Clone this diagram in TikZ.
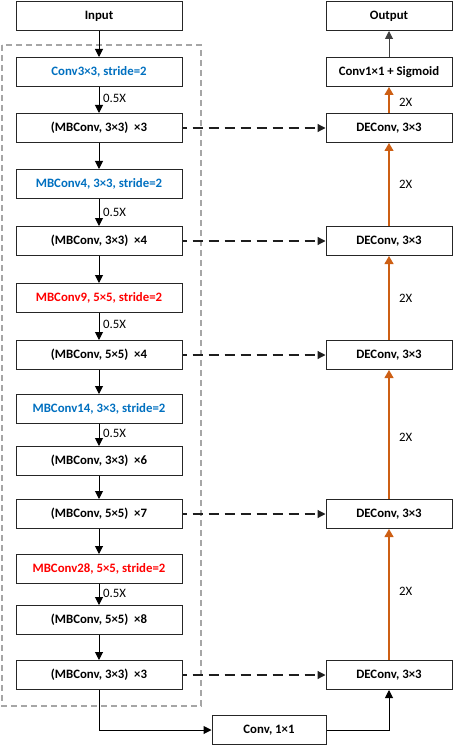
\documentclass[tikz,border=0pt]{standalone}
\usepackage{fontspec}
\setmainfont{Carlito}
\usetikzlibrary{arrows.meta}
\definecolor{lblue}{RGB}{0,112,192}
\definecolor{lred}{RGB}{255,0,0}
\definecolor{upor}{RGB}{205,95,20}
\definecolor{skipgray}{RGB}{30,30,30}
\definecolor{framegray}{RGB}{166,166,166}
\begin{document}
\begin{tikzpicture}[x=1pt,y=-1pt,
  blk/.style={draw=black!85,line width=1pt,fill=white,minimum height=29pt,inner sep=0pt,
    font=\fontsize{12.8}{14}\selectfont\bfseries},
  enc/.style={blk,minimum width=166pt},
  dec/.style={blk,minimum width=126pt},
  flow/.style={draw=black,line width=1pt,-{Triangle[length=8pt,width=8pt]}},
  up/.style={draw=upor,line width=1.1pt,-{Triangle[length=8pt,width=9pt]}},
  skip/.style={draw=skipgray,line width=1.2pt,dash pattern=on 10pt off 6pt,dash phase=6pt,
    -{Triangle[length=8pt,width=8pt]}},
  rate/.style={font=\fontsize{12.8}{14}\selectfont,inner sep=1pt}
]
\useasboundingbox (0,0) rectangle (455,746);
% encoder frame
\draw[framegray,line width=1.2pt,dash pattern=on 6pt off 4pt] (2,45) rectangle (201,706);

% encoder column
\node[enc] (in) at (99,16) {Input};
\node[enc,text=lblue] (e1) at (99,72) {Conv3×3, stride=2};
\node[enc] (e2) at (99,128) {(MBConv, 3×3)\ \ ×3};
\node[enc,text=lblue] (e3) at (99,184) {MBConv4, 3×3, stride=2};
\node[enc] (e4) at (99,241) {(MBConv, 3×3)\ \ ×4};
\node[enc,text=lred] (e5) at (99,298) {MBConv9, 5×5, stride=2};
\node[enc] (e6) at (99,355) {(MBConv, 5×5)\ \ ×4};
\node[enc,text=lblue] (e7) at (99,409) {MBConv14, 3×3, stride=2};
\node[enc] (e8) at (99,461) {(MBConv, 3×3)\ \ ×6};
\node[enc] (e9) at (99,514) {(MBConv, 5×5)\ \ ×7};
\node[enc,text=lred] (e10) at (99,569) {MBConv28, 5×5, stride=2};
\node[enc] (e11) at (99,620) {(MBConv, 5×5)\ \ ×8};
\node[enc] (e12) at (99,675) {(MBConv, 3×3)\ \ ×3};

% decoder column
\node[dec] (out) at (389,16) {Output};
\node[dec] (sg) at (389,72) {Conv1×1 + Sigmoid};
\node[dec] (d1) at (389,128) {DEConv, 3×3};
\node[dec] (d2) at (389,241) {DEConv, 3×3};
\node[dec] (d3) at (389,355) {DEConv, 3×3};
\node[dec] (d4) at (389,514) {DEConv, 3×3};
\node[dec] (d5) at (389,675) {DEConv, 3×3};
\node[blk,minimum width=114pt] (cv) at (269,730) {Conv, 1×1};

% encoder flow
\foreach \a/\b in {in/e1,e1/e2,e2/e3,e3/e4,e4/e5,e5/e6,e6/e7,e7/e8,e8/e9,e9/e10,e10/e11,e11/e12}
  \draw[flow] (\a.south) -- (\b.north);
\foreach \y in {98,212,324,433,593}
  \node[rate,anchor=west] at (102,\y) {0.5X};

% bottleneck path
\draw[flow] (e12.south) |- (cv.west);
\draw[flow] (cv.east) -| (d5.south);

% decoder flow
\foreach \a/\b in {d5/d4,d4/d3,d3/d2,d2/d1,d1/sg}
  \draw[up] (\a.north) -- (\b.south);
\draw[flow,draw=black!75] (sg.north) -- (out.south);
\foreach \y in {102,184,298,437,591}
  \node[rate,anchor=west] at (398,\y) {2X};

% skip connections
\foreach \a/\b in {e2/d1,e4/d2,e6/d3,e9/d4,e12/d5}
  \draw[skip] (\a.east) -- (\b.west);
\end{tikzpicture}
\end{document}
